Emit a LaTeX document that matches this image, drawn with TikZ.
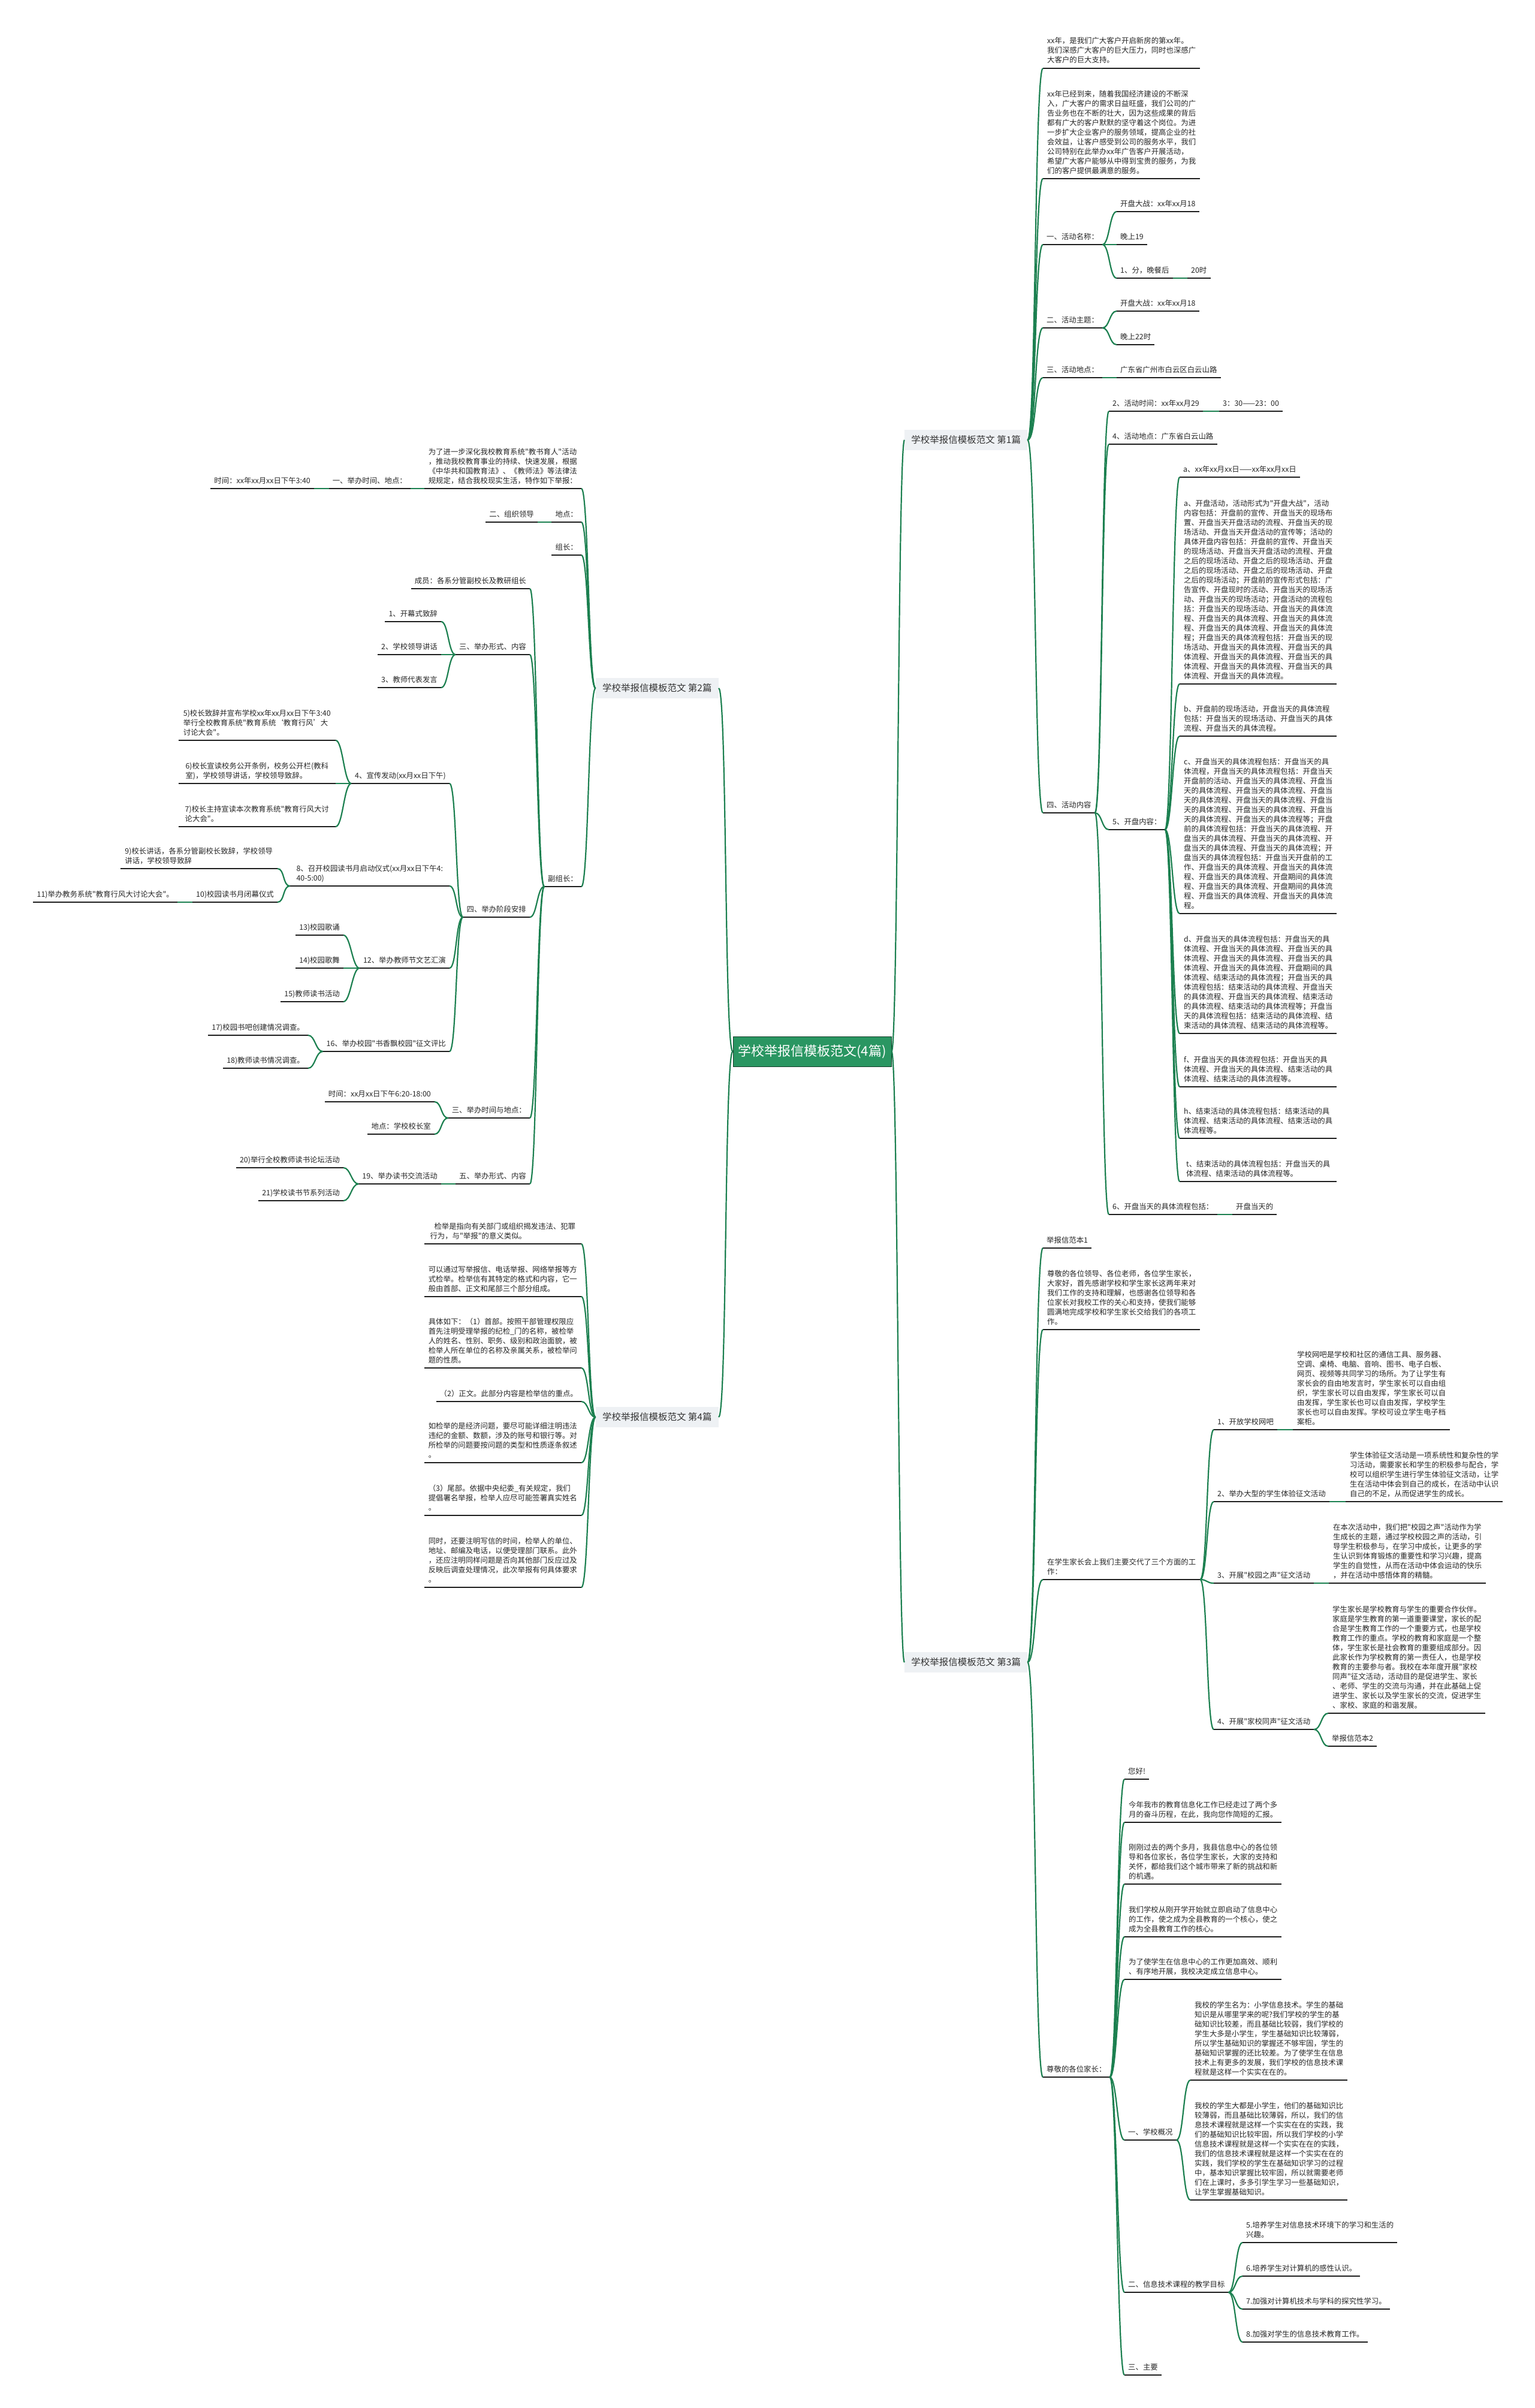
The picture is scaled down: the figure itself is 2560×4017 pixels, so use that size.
\documentclass[tikz,border=0pt]{standalone}
\usepackage{fontspec}
\newfontfamily\cjk{Noto Sans CJK SC}
\definecolor{conng}{RGB}{28,128,80}
\definecolor{rootg}{RGB}{42,150,98}
\definecolor{labg}{RGB}{238,241,244}
\newcommand\conR[2]{\draw[conn] (#1.south east) .. controls +(12,0) and +(-12,0) .. (#2.south west);}
\newcommand\conL[2]{\draw[conn] (#1.south west) .. controls +(-12,0) and +(12,0) .. (#2.south east);}
\begin{document}
\begin{tikzpicture}[x=1pt,y=-1pt,
  base/.style={font=\cjk\fontsize{12.4}{16}\selectfont, text=black!85, inner xsep=6pt, inner ysep=4pt, align=left, execute at end node={\strut}},
  R/.style={base,anchor=south west},
  L/.style={base,anchor=south east},
  para/.style={minimum width=262pt},
  ul/.style={draw=black!88, line width=2.4pt},
  conn/.style={draw=conng, line width=2.2pt},
  lab/.style={fill=labg, font=\cjk\fontsize{15.5}{18}\selectfont, text=black!80, minimum width=205pt, minimum height=34pt, inner sep=0pt},
  rootn/.style={fill=rootg, draw=black!60!rootg, line width=1pt, text=white, font=\cjk\fontsize{22}{26}\selectfont, minimum width=264pt, minimum height=50pt, inner sep=0pt}]
\fill[white] (0,0) rectangle (2560,4017);
\useasboundingbox (0,0) rectangle (2560,4017);

% root and branch labels
\node[rootn] (root) at (1355,1754) {学校举报信模板范文(4篇)};
\node[lab,anchor=west] (L1) at (1509,734) {学校举报信模板范文 第1篇};
\node[lab,anchor=west] (L3) at (1509,2773) {学校举报信模板范文 第3篇};
\node[lab,anchor=east] (L2) at (1199,1148) {学校举报信模板范文 第2篇};
\node[lab,anchor=east] (L4) at (1199,2364) {学校举报信模板范文 第4篇};

% ---------- branch 1 ----------
\node[R,para] (a1) at (1740,114) {xx年，是我们广大客户开启新房的第xx年。\\我们深感广大客户的巨大压力，同时也深感广\\大客户的巨大支持。};
\node[R,para] (a2) at (1740,298) {xx年已经到来，随着我国经济建设的不断深\\入，广大客户的需求日益旺盛，我们公司的广\\告业务也在不断的壮大，因为这些成果的背后\\都有广大的客户默默的坚守着这个岗位。为进\\一步扩大企业客户的服务领域，提高企业的社\\会效益，让客户感受到公司的服务水平，我们\\公司特别在此举办xx年广告客户开展活动，\\希望广大客户能够从中得到宝贵的服务，为我\\们的客户提供最满意的服务。};
\node[R] (a3) at (1740,408) {一、活动名称：};
\node[R] (a31) at (1863,353) {开盘大战：xx年xx月18};
\node[R] (a32) at (1863,408) {晚上19};
\node[R] (a33) at (1863,464) {1、分，晚餐后};
\node[R] (a331) at (1981,464) {20时};
\node[R] (a4) at (1740,547) {二、活动主题：};
\node[R] (a41) at (1863,519) {开盘大战：xx年xx月18};
\node[R] (a42) at (1863,575) {晚上22时};
\node[R] (a5) at (1740,630) {三、活动地点：};
\node[R] (a51) at (1863,630) {广东省广州市白云区白云山路};
\node[R] (a6) at (1740,1356) {四、活动内容};
\node[R] (a61) at (1850,686) {2、活动时间：xx年xx月29};
\node[R] (a611) at (2034,686) {3：30——23：00};
\node[R] (a62) at (1850,741) {4、活动地点：广东省白云山路};
\node[R] (a63) at (1850,1384) {5、开盘内容：};
\node[R] (a631) at (1968,796) {a、xx年xx月xx日——xx年xx月xx日};
\node[R,para] (a632) at (1968,1141) {a、开盘活动，活动形式为"开盘大战"，活动\\内容包括：开盘前的宣传、开盘当天的现场布\\置、开盘当天开盘活动的流程、开盘当天的现\\场活动、开盘当天开盘活动的宣传等；活动的\\具体开盘内容包括：开盘前的宣传、开盘当天\\的现场活动、开盘当天开盘活动的流程、开盘\\之后的现场活动、开盘之后的现场活动、开盘\\之后的现场活动、开盘之后的现场活动、开盘\\之后的现场活动；开盘前的宣传形式包括：广\\告宣传、开盘现时的活动、开盘当天的现场活\\动、开盘当天的现场活动；开盘活动的流程包\\括：开盘当天的现场活动、开盘当天的具体流\\程、开盘当天的具体流程、开盘当天的具体流\\程、开盘当天的具体流程、开盘当天的具体流\\程；开盘当天的具体流程包括：开盘当天的现\\场活动、开盘当天的具体流程、开盘当天的具\\体流程、开盘当天的具体流程、开盘当天的具\\体流程、开盘当天的具体流程、开盘当天的具\\体流程、开盘当天的具体流程。};
\node[R,para] (a633) at (1968,1228) {b、开盘前的现场活动，开盘当天的具体流程\\包括：开盘当天的现场活动、开盘当天的具体\\流程、开盘当天的具体流程。};
\node[R,para] (a634) at (1968,1524) {c、开盘当天的具体流程包括：开盘当天的具\\体流程，开盘当天的具体流程包括：开盘当天\\开盘前的活动、开盘当天的具体流程、开盘当\\天的具体流程、开盘当天的具体流程、开盘当\\天的具体流程、开盘当天的具体流程、开盘当\\天的具体流程、开盘当天的具体流程、开盘当\\天的具体流程、开盘当天的具体流程等；开盘\\前的具体流程包括：开盘当天的具体流程、开\\盘当天的具体流程、开盘当天的具体流程、开\\盘当天的具体流程、开盘当天的具体流程；开\\盘当天的具体流程包括：开盘当天开盘前的工\\作、开盘当天的具体流程、开盘当天的具体流\\程、开盘当天的具体流程、开盘期间的具体流\\程、开盘当天的具体流程、开盘期间的具体流\\程、开盘当天的具体流程、开盘当天的具体流\\程。};
\node[R,para] (a635) at (1968,1724) {d、开盘当天的具体流程包括：开盘当天的具\\体流程、开盘当天的具体流程、开盘当天的具\\体流程、开盘当天的具体流程、开盘当天的具\\体流程、开盘当天的具体流程、开盘期间的具\\体流程、结束活动的具体流程；开盘当天的具\\体流程包括：结束活动的具体流程、开盘当天\\的具体流程、开盘当天的具体流程、结束活动\\的具体流程、结束活动的具体流程等；开盘当\\天的具体流程包括：结束活动的具体流程、结\\束活动的具体流程、结束活动的具体流程等。};
\node[R,para] (a636) at (1968,1813) {f、开盘当天的具体流程包括：开盘当天的具\\体流程、开盘当天的具体流程、结束活动的具\\体流程、结束活动的具体流程等。};
\node[R,para] (a637) at (1968,1899) {h、结束活动的具体流程包括：结束活动的具\\体流程、结束活动的具体流程、结束活动的具\\体流程等。};
\node[R,para] (a638) at (1968,1971) {t、结束活动的具体流程包括：开盘当天的具\\体流程、结束活动的具体流程等。};
\node[R] (a64) at (1850,2026) {6、开盘当天的具体流程包括：};
\node[R] (a641) at (2056,2026) {开盘当天的};

% ---------- branch 3 ----------
\node[R] (b1) at (1740,2082) {举报信范本1};
\node[R,para] (b2) at (1740,2218) {尊敬的各位领导、各位老师，各位学生家长，\\大家好，首先感谢学校和学生家长这两年来对\\我们工作的支持和理解，也感谢各位领导和各\\位家长对我校工作的关心和支持，使我们能够\\圆满地完成学校和学生家长交给我们的各项工\\作。};
\node[R,para] (b3) at (1740,2635) {在学生家长会上我们主要交代了三个方面的工\\作：};
\node[R] (b31) at (2025,2385) {1、开放学校网吧};
\node[R,para] (b311) at (2157,2385) {学校网吧是学校和社区的通信工具、服务器、\\空调、桌椅、电脑、音响、图书、电子白板、\\网页、视频等共同学习的场所。为了让学生有\\家长会的自由地发言时，学生家长可以自由组\\织，学生家长可以自由发挥，学生家长可以自\\由发挥，学生家长也可以自由发挥，学校学生\\家长也可以自由发挥。学校可设立学生电子档\\案柜。};
\node[R] (b32) at (2025,2505) {2、举办大型的学生体验征文活动};
\node[R,para] (b321) at (2245,2505) {学生体验征文活动是一项系统性和复杂性的学\\习活动，需要家长和学生的积极参与配合，学\\校可以组织学生进行学生体验征文活动，让学\\生在活动中体会到自己的成长，在活动中认识\\自己的不足，从而促进学生的成长。};
\node[R] (b33) at (2025,2641) {3、开展"校园之声"征文活动};
\node[R,para] (b331) at (2217,2641) {在本次活动中，我们把"校园之声"活动作为学\\生成长的主题，通过学校校园之声的活动，引\\导学生积极参与，在学习中成长，让更多的学\\生认识到体育锻炼的重要性和学习兴趣，提高\\学生的自觉性，从而在活动中体会运动的快乐\\，并在活动中感悟体育的精髓。};
\node[R] (b34) at (2025,2885) {4、开展"家校同声"征文活动};
\node[R,para] (b341) at (2216,2858) {学生家长是学校教育与学生的重要合作伙伴。\\家庭是学生教育的第一道重要课堂，家长的配\\合是学生教育工作的一个重要方式，也是学校\\教育工作的重点。学校的教育和家庭是一个整\\体，学生家长是社会教育的重要组成部分。因\\此家长作为学校教育的第一责任人，也是学校\\教育的主要参与者。我校在本年度开展"家校\\同声"征文活动，活动目的是促进学生、家长\\、老师、学生的交流与沟通，并在此基础上促\\进学生、家长以及学生家长的交流，促进学生\\、家校、家庭的和谐发展。};
\node[R] (b342) at (2216,2913) {举报信范本2};
\node[R] (b4) at (1740,3465) {尊敬的各位家长：};
\node[R] (b41) at (1876,2968) {您好!};
\node[R,para] (b42) at (1876,3040) {今年我市的教育信息化工作已经走过了两个多\\月的奋斗历程，在此，我向您作简短的汇报。};
\node[R,para] (b43) at (1876,3143) {刚刚过去的两个多月，我县信息中心的各位领\\导和各位家长，各位学生家长，大家的支持和\\关怀，都给我们这个城市带来了新的挑战和新\\的机遇。};
\node[R,para] (b44) at (1876,3231) {我们学校从刚开学开始就立即启动了信息中心\\的工作，使之成为全县教育的一个核心，使之\\成为全县教育工作的核心。};
\node[R,para] (b45) at (1876,3302) {为了使学生在信息中心的工作更加高效、顺利\\、有序地开展，我校决定成立信息中心。};
\node[R] (b46) at (1876,3570) {一、学校概况};
\node[R,para] (b461) at (1986,3470) {我校的学生名为：小学信息技术。学生的基础\\知识是从哪里学来的呢?我们学校的学生的基\\础知识比较差，而且基础比较弱，我们学校的\\学生大多是小学生，学生基础知识比较薄弱，\\所以学生基础知识的掌握还不够牢固，学生的\\基础知识掌握的还比较差。为了使学生在信息\\技术上有更多的发展，我们学校的信息技术课\\程就是这样一个实实在在的。};
\node[R,para] (b462) at (1986,3670) {我校的学生大都是小学生，他们的基础知识比\\较薄弱，而且基础比较薄弱，所以，我们的信\\息技术课程就是这样一个实实在在的实践，我\\们的基础知识比较牢固，所以我们学校的小学\\信息技术课程就是这样一个实实在在的实践，\\我们的信息技术课程就是这样一个实实在在的\\实践，我们学校的学生在基础知识学习的过程\\中，基本知识掌握比较牢固，所以就需要老师\\们在上课时，多多引学生学习一些基础知识，\\让学生掌握基础知识。};
\node[R] (b47) at (1876,3824) {二、信息技术课程的教学目标};
\node[R] (b471) at (2073,3741) {5.培养学生对信息技术环境下的学习和生活的\\兴趣。};
\node[R] (b472) at (2073,3797) {6.培养学生对计算机的感性认识。};
\node[R] (b473) at (2073,3852) {7.加强对计算机技术与学科的探究性学习。};
\node[R] (b474) at (2073,3907) {8.加强对学生的信息技术教育工作。};
\node[R] (b48) at (1876,3962) {三、主要};

% ---------- branch 2 ----------
\node[L,para] (c1) at (970,815) {为了进一步深化我校教育系统"教书育人"活动\\，推动我校教育事业的持续、快速发展，根据\\《中华共和国教育法》、《教师法》等法律法\\规规定，结合我校现实生活，特作如下举报：};
\node[L] (c11) at (685,815) {一、举办时间、地点：};
\node[L] (c111) at (524,815) {时间：xx年xx月xx日下午3:40};
\node[L] (c2) at (970,871) {地点：};
\node[L] (c21) at (897,871) {二、组织领导};
\node[L] (c3) at (970,926) {组长：};
\node[L] (c4) at (970,1479) {副组长：};
\node[L] (c41) at (884,982) {成员：各系分管副校长及教研组长};
\node[L] (c42) at (884,1092) {三、举办形式、内容};
\node[L] (c421) at (736,1037) {1、开幕式致辞};
\node[L] (c422) at (736,1092) {2、学校领导讲话};
\node[L] (c423) at (736,1147) {3、教师代表发言};
\node[L] (c43) at (884,1530) {四、举办阶段安排};
\node[L] (c431) at (750,1307) {4、宣传发动(xx月xx日下午)};
\node[L,para] (c4311) at (560,1235) {5)校长致辞并宣布学校xx年xx月xx日下午3:40\\举行全校教育系统"教育系统‘教育行风’大\\讨论大会"。};
\node[L,para] (c4312) at (560,1307) {6)校长宣读校务公开条例，校务公开栏(教科\\室)，学校领导讲话，学校领导致辞。};
\node[L,para] (c4313) at (560,1379) {7)校长主持宣读本次教育系统"教育行风大讨\\论大会"。};
\node[L,minimum width=266pt] (c432) at (750,1478) {8、召开校园读书月启动仪式(xx月xx日下午4:\\40-5:00)};
\node[L,para] (c4321) at (463,1449) {9)校长讲话，各系分管副校长致辞，学校领导\\讲话，学校领导致辞};
\node[L] (c4322) at (463,1505) {10)校园读书月闭幕仪式};
\node[L] (c43221) at (296,1505) {11)举办教务系统"教育行风大讨论大会"。};
\node[L] (c433) at (750,1615) {12、举办教师节文艺汇演};
\node[L] (c4331) at (573,1560) {13)校园歌诵};
\node[L] (c4332) at (573,1615) {14)校园歌舞};
\node[L] (c4333) at (573,1671) {15)教师读书活动};
\node[L] (c434) at (750,1754) {16、举办校园"书香飘校园"征文评比};
\node[L] (c4341) at (514,1727) {17)校园书吧创建情况调查。};
\node[L] (c4342) at (514,1782) {18)教师读书情况调查。};
\node[L] (c44) at (884,1865) {三、举办时间与地点：};
\node[L] (c441) at (725,1838) {时间：xx月xx日下午6:20-18:00};
\node[L] (c442) at (725,1892) {地点：学校校长室};
\node[L] (c45) at (884,1975) {五、举办形式、内容};
\node[L] (c451) at (736,1975) {19、举办读书交流活动};
\node[L] (c4511) at (573,1948) {20)举行全校教师读书论坛活动};
\node[L] (c4512) at (573,2003) {21)学校读书节系列活动};

% ---------- branch 4 ----------
\node[L,para] (d1) at (970,2075) {\hspace*{7pt}检举是指向有关部门或组织揭发违法、犯罪\\行为，与"举报"的意义类似。};
\node[L,para] (d2) at (970,2163) {可以通过写举报信、电话举报、网络举报等方\\式检举。检举信有其特定的格式和内容，它一\\般由首部、正文和尾部三个部分组成。};
\node[L,para] (d3) at (970,2282) {具体如下：（1）首部。按照干部管理权限应\\首先注明受理举报的纪检\_门的名称，被检举\\人的姓名、性别、职务、级别和政治面貌，被\\检举人所在单位的名称及亲属关系，被检举问\\题的性质。};
\node[L] (d4) at (970,2338) {（2）正文。此部分内容是检举信的重点。};
\node[L,para] (d5) at (970,2440) {如检举的是经济问题，要尽可能详细注明违法\\违纪的金额、数额，涉及的账号和银行等。对\\所检举的问题要按问题的类型和性质逐条叙述\\。};
\node[L,para] (d6) at (970,2528) {（3）尾部。依据中央纪委\_有关规定，我们\\提倡署名举报，检举人应尽可能签署真实姓名\\。};
\node[L,para] (d7) at (970,2648) {同时，还要注明写信的时间，检举人的单位、\\地址、邮编及电话，以便受理部门联系。此外\\，还应注明同样问题是否向其他部门反应过及\\反映后调查处理情况，此次举报有何具体要求\\。};

% ---------- underlines ----------
\foreach \n in {a1,a2,a3,a31,a32,a33,a331,a4,a41,a42,a5,a51,a6,a61,a611,a62,a63,a631,a632,a633,a634,a635,a636,a637,a638,a64,a641,
  b1,b2,b3,b31,b311,b32,b321,b33,b331,b34,b341,b342,b4,b41,b42,b43,b44,b45,b46,b461,b462,b47,b471,b472,b473,b474,b48,
  c1,c11,c111,c2,c21,c3,c4,c41,c42,c421,c422,c423,c43,c431,c4311,c4312,c4313,c432,c4321,c4322,c43221,c433,c4331,c4332,c4333,c434,c4341,c4342,c44,c441,c442,c45,c451,c4511,c4512,
  d1,d2,d3,d4,d5,d6,d7}
  {\draw[ul] (\n.south west) -- (\n.south east);}

% ---------- connectors ----------
\draw[conn] (root.east) .. controls +(11,0) and +(-11,0) .. (L1.west);
\draw[conn] (root.east) .. controls +(11,0) and +(-11,0) .. (L3.west);
\draw[conn] (root.west) .. controls +(-14,0) and +(14,0) .. (L2.east);
\draw[conn] (root.west) .. controls +(-14,0) and +(14,0) .. (L4.east);

\foreach \c in {a1,a2,a3,a4,a5,a6}
  {\draw[conn] (L1.east) .. controls +(14,0) and +(-14,0) .. (\c.south west);}
\foreach \c in {a31,a32,a33} {\conR{a3}{\c}}
\conR{a33}{a331}
\foreach \c in {a41,a42} {\conR{a4}{\c}}
\conR{a5}{a51}
\foreach \c in {a61,a62,a63,a64} {\conR{a6}{\c}}
\conR{a61}{a611}
\foreach \c in {a631,a632,a633,a634,a635,a636,a637,a638} {\conR{a63}{\c}}
\conR{a64}{a641}

\foreach \c in {b1,b2,b3,b4}
  {\draw[conn] (L3.east) .. controls +(14,0) and +(-14,0) .. (\c.south west);}
\foreach \c in {b31,b32,b33,b34} {\conR{b3}{\c}}
\conR{b31}{b311}
\conR{b32}{b321}
\conR{b33}{b331}
\foreach \c in {b341,b342} {\conR{b34}{\c}}
\foreach \c in {b41,b42,b43,b44,b45,b46,b47,b48} {\conR{b4}{\c}}
\foreach \c in {b461,b462} {\conR{b46}{\c}}
\foreach \c in {b471,b472,b473,b474} {\conR{b47}{\c}}

\foreach \c in {c1,c2,c3,c4}
  {\draw[conn] (L2.west) .. controls +(-12,0) and +(12,0) .. (\c.south east);}
\conL{c1}{c11}
\conL{c11}{c111}
\conL{c2}{c21}
\foreach \c in {c41,c42,c43,c44,c45} {\conL{c4}{\c}}
\foreach \c in {c421,c422,c423} {\conL{c42}{\c}}
\foreach \c in {c431,c432,c433,c434} {\conL{c43}{\c}}
\foreach \c in {c4311,c4312,c4313} {\conL{c431}{\c}}
\foreach \c in {c4321,c4322} {\conL{c432}{\c}}
\conL{c4322}{c43221}
\foreach \c in {c4331,c4332,c4333} {\conL{c433}{\c}}
\foreach \c in {c4341,c4342} {\conL{c434}{\c}}
\foreach \c in {c441,c442} {\conL{c44}{\c}}
\conL{c45}{c451}
\foreach \c in {c4511,c4512} {\conL{c451}{\c}}

\foreach \c in {d1,d2,d3,d4,d5,d6,d7}
  {\draw[conn] (L4.west) .. controls +(-12,0) and +(12,0) .. (\c.south east);}
\end{tikzpicture}
\end{document}
